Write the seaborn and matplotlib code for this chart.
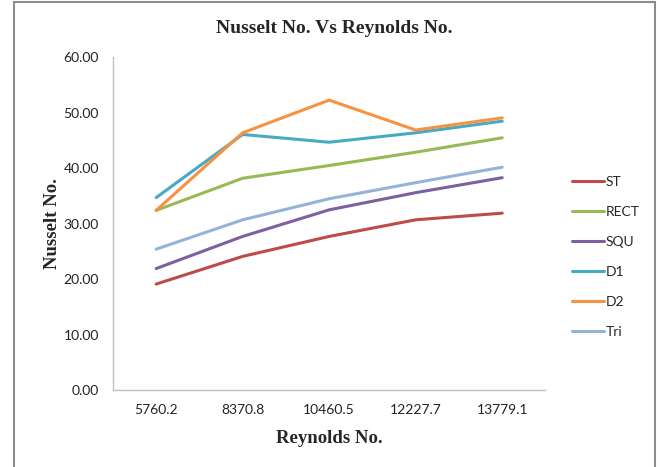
import matplotlib
matplotlib.use("Agg")
import matplotlib.pyplot as plt
from matplotlib.patches import Rectangle
import pandas as pd
import seaborn as sns

reynolds = ["5760.2", "8370.8", "10460.5", "12227.7", "13779.1"]
st = [19.1, 24.1, 27.7, 30.7, 31.9]
rect = [32.4, 38.2, 40.5, 42.9, 45.5]
squ = [21.9, 27.7, 32.5, 35.6, 38.3]
d1 = [34.7, 46.1, 44.7, 46.4, 48.5]
d2 = [32.4, 46.4, 52.3, 46.9, 49.1]
tri = [25.4, 30.7, 34.5, 37.4, 40.2]

series = {"ST": st, "RECT": rect, "SQU": squ, "D1": d1, "D2": d2, "Tri": tri}
colors = {"ST": "#BE4B48", "RECT": "#98B954", "SQU": "#7D60A0",
          "D1": "#46AAC5", "D2": "#F69240", "Tri": "#95B3D7"}

df = pd.DataFrame([
    {"Reynolds": r, "Nusselt": v, "Shape": name}
    for name, vals in series.items() for r, v in zip(reynolds, vals)
])

sns.set_style("white")
plt.rcParams["font.family"] = ["Lato", "DejaVu Sans"]

fig = plt.figure(figsize=(6.6, 4.67), dpi=100)
ax = fig.add_axes([0.171, 0.165, 0.6555, 0.712])

sns.lineplot(data=df, x="Reynolds", y="Nusselt", hue="Shape",
             palette=colors, sort=False, linewidth=2.2, ax=ax, legend=False)

ax.set_xlim(-0.5, 4.5)
ax.set_ylim(0, 60)
ax.set_yticks(range(0, 61, 10))
ax.set_yticklabels([f"{v:.2f}" for v in range(0, 61, 10)])
for s in ["top", "right"]:
    ax.spines[s].set_visible(False)
for s in ["left", "bottom"]:
    ax.spines[s].set_color("#BFBFBF")
    ax.spines[s].set_linewidth(1.0)
ax.tick_params(axis="y", which="major", direction="out", length=5,
               color="#BFBFBF", width=1.0, labelsize=10, labelcolor="#222222", pad=5)
ax.tick_params(axis="x", length=0, labelsize=10, labelcolor="#222222", pad=10)

serif_bold = dict(family=["Liberation Serif", "DejaVu Serif"], weight="bold")
ax.set_xlabel("Reynolds No.", fontsize=13.5, labelpad=10, **serif_bold)
ax.set_ylabel("Nusselt No.", fontsize=13.5, labelpad=2, **serif_bold)
fig.text(0.506, 0.94, "Nusselt No. Vs Reynolds No.", ha="center", va="center",
         fontsize=14, **serif_bold)

handles = [plt.Line2D([], [], color=colors[n], linewidth=2.2) for n in series]
fig.legend(handles, list(series), loc="upper left",
           bbox_to_anchor=(566 / 660, 1 - 170 / 467), frameon=False,
           handlelength=2.3, handletextpad=0.15, labelspacing=1.3, fontsize=10,
           borderaxespad=0)

fig.patches.append(Rectangle((14 / 660, -0.01), (655 - 14) / 660, 1 - 2 / 467 + 0.01,
                             transform=fig.transFigure, fill=False,
                             edgecolor="#8C8C8C", linewidth=1.5))

fig.savefig("out.png", dpi=100)
